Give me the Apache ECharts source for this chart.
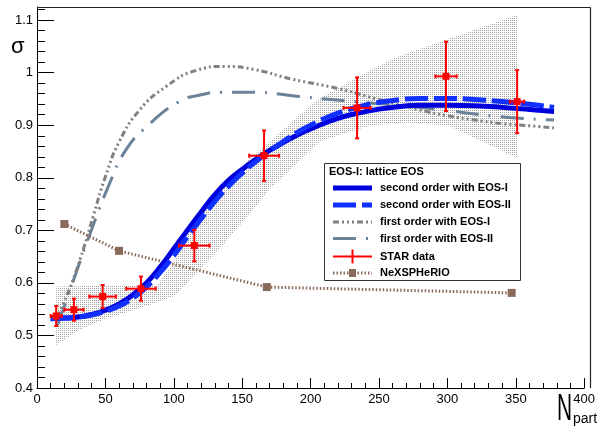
<!DOCTYPE html>
<html>
<head>
<meta charset="utf-8">
<script src="https://cdn.jsdelivr.net/npm/echarts@6/dist/echarts.min.js"></script>
<style>
html,body{margin:0;padding:0;background:#fff;}
#chart{width:598px;height:427px;}
</style>
</head>
<body>
<div id="chart"></div>
<script>
// ---- data ----
const xTickLabels = [0, 50, 100, 150, 200, 250, 300, 350, 400];
const yTickLabels = [0.4, 0.5, 0.6, 0.7, 0.8, 0.9, 1, 1.1];

const secondEOS1_x = [10,20,30,40,50,60,70,80,90,100,110,120,130,140,150,160,170,180,190,200,220,240,260,280,300,320,340,360,378];
const secondEOS1_y = [0.532,0.533,0.535,0.540,0.548,0.560,0.577,0.600,0.630,0.665,0.700,0.735,0.768,0.795,0.816,0.835,0.852,0.867,0.881,0.893,0.913,0.926,0.934,0.938,0.938,0.937,0.934,0.930,0.926];

const secondEOS2_x = [10,20,30,40,50,60,70,80,90,100,110,120,130,140,150,160,170,180,190,200,220,240,260,280,300,320,340,360,378];
const secondEOS2_y = [0.532,0.533,0.535,0.539,0.546,0.556,0.571,0.592,0.620,0.652,0.688,0.722,0.755,0.784,0.809,0.831,0.851,0.869,0.886,0.900,0.923,0.938,0.947,0.951,0.951,0.949,0.945,0.940,0.934];

const firstEOS1_x = [15,20,26,34,41,50,60,75,94,116,138,159,186,220,240,260,280,300,320,340,360,378];
const firstEOS1_y = [0.535,0.565,0.603,0.665,0.726,0.802,0.868,0.929,0.973,1.004,1.012,1.006,0.988,0.970,0.956,0.942,0.929,0.918,0.910,0.903,0.899,0.895];

const firstEOS2_x = [15,20,26,38,53,65,80,104,120,135,159,190,232,287,335,378];
const firstEOS2_y = [0.520,0.555,0.600,0.688,0.789,0.853,0.897,0.945,0.958,0.963,0.963,0.955,0.945,0.932,0.917,0.910];

const star_x    = [14, 27, 48, 76, 115, 166, 234, 299, 351];
const star_y    = [0.537, 0.549, 0.574, 0.589, 0.671, 0.842, 0.933, 0.993, 0.945];
const star_xerr = [4, 7, 9.7, 10.8, 11.2, 10.9, 9.9, 7.8, 5.2];
const star_yerr = [0.019, 0.021, 0.022, 0.023, 0.030, 0.048, 0.058, 0.066, 0.060];

const nexus_x = [20, 60, 168, 347];
const nexus_y = [0.712, 0.661, 0.592, 0.581];

const bandUpper_x = [14, 88, 100, 110, 120, 135, 150, 170, 190, 207, 244, 263, 351];
const bandUpper_y = [0.593, 0.596, 0.640, 0.690, 0.735, 0.785, 0.825, 0.868, 0.915, 0.952, 1.005, 1.030, 1.110];
const bandLower_x = [14, 30, 50, 70, 90, 100, 115, 130, 150, 170, 207, 244, 270, 300, 351];
const bandLower_y = [0.482, 0.510, 0.532, 0.548, 0.565, 0.575, 0.615, 0.655, 0.715, 0.778, 0.870, 0.900, 0.905, 0.900, 0.838];

const legendHeader = 'EOS-I: lattice EOS';
const legendLabels = ['second order with EOS-I', 'second order with EOS-II', 'first order with EOS-I', 'first order with EOS-II', 'STAR data', 'NeXSPHeRIO'];

// ---- styles ----
const C_SOLID = '#0000dd', C_DASH = '#1030ff', C_GREY = '#808080', C_SLATE = '#6b8299', C_RED = '#ff0000', C_BROWN = '#8a6a5a';
const DASH_BLUE = [23, 6], DASH_GREY = [6, 3, 2, 3, 2, 3, 2, 3], DASH_SLATE = [23, 10, 2, 10], DASH_BROWN = [1.5, 2];
const FONT = '"Liberation Sans", Arial, Helvetica, sans-serif';
const NARROW = '"Liberation Sans Narrow", "Liberation Sans", Arial, sans-serif';

function pairs(xs, ys) { return xs.map((x, i) => [x, ys[i]]); }

// stipple pattern for band
const pc = document.createElement('canvas');
pc.width = 2; pc.height = 2;
const pctx = pc.getContext('2d');
pctx.fillStyle = '#a0a0a0';
pctx.fillRect(0, 0, 1, 1);

const chart = echarts.init(document.getElementById('chart'), null, {renderer: 'canvas'});

function lineSeries(xs, ys, color, width, dash, z) {
  return {
    type: 'line', data: pairs(xs, ys), showSymbol: false, smooth: true, z: z,
    lineStyle: {color: color, width: width, type: dash || 'solid', cap: 'butt', join: 'round'},
    silent: true, animation: false
  };
}

// legend graphics
const LX = 324, LY = 163, LW = 196, LH = 117;
const rowY = [188, 205, 222, 238.5, 256.5, 273];
const sx0 = 333, sx1 = 372;
const legendGraphics = [
  {type: 'rect', shape: {x: LX + 0.5, y: LY + 0.5, width: LW, height: LH}, style: {fill: '#fff', stroke: '#333', lineWidth: 1}, z: 100},
  {type: 'text', x: 329, y: 172, style: {text: legendHeader, font: 'bold 11px ' + NARROW, fill: '#000', verticalAlign: 'middle'}, z: 101}
];
const sampleStyles = [
  {stroke: C_SOLID, lineWidth: 5, lineDash: null},
  {stroke: C_DASH, lineWidth: 5, lineDash: DASH_BLUE},
  {stroke: C_GREY, lineWidth: 3, lineDash: DASH_GREY},
  {stroke: C_SLATE, lineWidth: 3, lineDash: DASH_SLATE},
  {stroke: C_RED, lineWidth: 2, lineDash: null},
  {stroke: C_BROWN, lineWidth: 3, lineDash: DASH_BROWN}
];
legendLabels.forEach((lab, i) => {
  const y = rowY[i];
  legendGraphics.push({type: 'line', shape: {x1: sx0, y1: y, x2: sx1, y2: y}, style: Object.assign({lineCap: 'butt'}, sampleStyles[i]), z: 101});
  legendGraphics.push({type: 'text', x: 380, y: y, style: {text: lab, font: 'bold 11px ' + NARROW, fill: '#000', verticalAlign: 'middle'}, z: 101});
});
legendGraphics.push({type: 'line', shape: {x1: 352.5, y1: rowY[4] - 7, x2: 352.5, y2: rowY[4] + 7}, style: {stroke: C_RED, lineWidth: 2}, z: 102});
legendGraphics.push({type: 'rect', shape: {x: 349, y: rowY[5] - 4, width: 7, height: 8}, style: {fill: C_BROWN}, z: 102});

const Y_MIN = 0.4, Y_MAX = 1.125;

const option = {
  animation: false,
  backgroundColor: '#fff',
  grid: {left: 37, right: 9, top: 7, bottom: 39, show: false},
  xAxis: {
    type: 'value', min: 0, max: 400, interval: 50,
    axisLine: {show: true, lineStyle: {color: '#000', width: 1}},
    axisTick: {show: true, inside: true, length: 10, lineStyle: {color: '#000', width: 1}},
    minorTick: {show: true, splitNumber: 5, length: 5, lineStyle: {color: '#000', width: 1}},
    axisLabel: {show: true, margin: 5, color: '#000', fontSize: 13, fontFamily: FONT,
      formatter: v => xTickLabels.indexOf(v) >= 0 ? String(v) : ''},
    splitLine: {show: false}
  },
  yAxis: [
    {
      type: 'value', min: Y_MIN, max: Y_MAX, interval: 0.1, position: 'left',
      axisLine: {show: true, lineStyle: {color: '#000', width: 1}},
      axisTick: {show: true, inside: true, length: 17, lineStyle: {color: '#000', width: 1}},
      minorTick: {show: false},
      axisLabel: {show: true, margin: 4, color: '#000', fontSize: 13, fontFamily: FONT, showMaxLabel: false,
        formatter: v => { const r = Math.round(v * 10) / 10; return (Math.abs(r - v) < 1e-6 && yTickLabels.indexOf(r) >= 0) ? String(r) : ''; }},
      splitLine: {show: false}
    },
    {
      type: 'value', min: Y_MIN, max: Y_MAX, interval: 0.02, position: 'left', offset: 0,
      axisLine: {show: false},
      axisTick: {show: true, inside: true, length: 8, lineStyle: {color: '#000', width: 1}},
      axisLabel: {show: false},
      splitLine: {show: false}
    }
  ],
  graphic: [
    {type: 'line', shape: {x1: 37, y1: 7.5, x2: 590.5, y2: 7.5}, style: {stroke: '#222', lineWidth: 1.2}, z: 50},
    {type: 'line', shape: {x1: 590.5, y1: 7.5, x2: 590.5, y2: 388}, style: {stroke: '#222', lineWidth: 1.2}, z: 50},
    {type: 'text', x: 11, y: 47, style: {text: 'σ', font: '22px ' + FONT, fill: '#000', verticalAlign: 'middle'}, z: 50},
    {type: 'text', x: 557, y: 410, scaleX: 0.58, style: {text: 'N', font: '36px ' + FONT, fill: '#000', verticalAlign: 'middle'}, z: 50},
    {type: 'text', x: 573, y: 419, style: {text: 'part', font: '14px ' + FONT, fill: '#000', verticalAlign: 'middle'}, z: 50}
  ].concat(legendGraphics),
  series: [
    {
      type: 'custom', coordinateSystem: 'cartesian2d', silent: true, z: 1,
      data: [[bandUpper_x[0], bandUpper_y[0]]],
      renderItem: function (params, api) {
        const pts = [];
        for (let i = 0; i < bandUpper_x.length; i++) pts.push(api.coord([bandUpper_x[i], bandUpper_y[i]]));
        for (let i = bandLower_x.length - 1; i >= 0; i--) pts.push(api.coord([bandLower_x[i], bandLower_y[i]]));
        return {type: 'polygon', shape: {points: pts}, style: {fill: {image: pc, repeat: 'repeat'}}};
      }
    },
    lineSeries(firstEOS2_x, firstEOS2_y, C_SLATE, 3, DASH_SLATE, 3),
    lineSeries(firstEOS1_x, firstEOS1_y, C_GREY, 3, DASH_GREY, 3),
    {
      type: 'line', data: pairs(nexus_x, nexus_y), smooth: false, z: 4, silent: true,
      symbol: 'rect', symbolSize: 8, showSymbol: true,
      itemStyle: {color: C_BROWN},
      lineStyle: {color: C_BROWN, width: 3, type: DASH_BROWN, cap: 'butt'}
    },
    lineSeries(secondEOS1_x, secondEOS1_y, C_SOLID, 5, 'solid', 5),
    lineSeries(secondEOS2_x, secondEOS2_y, C_DASH, 5, DASH_BLUE, 6),
    {
      type: 'custom', coordinateSystem: 'cartesian2d', silent: true, z: 10,
      dimensions: ['x', 'y', 'ex', 'ey'],
      encode: {x: 0, y: 1},
      data: star_x.map((x, i) => [x, star_y[i], star_xerr[i], star_yerr[i]]),
      renderItem: function (params, api) {
        const x = api.value(0), y = api.value(1), ex = api.value(2), ey = api.value(3);
        const c = api.coord([x, y]);
        const t = api.coord([x, y + ey]), b = api.coord([x, y - ey]);
        const l = api.coord([x - ex, y]), r = api.coord([x + ex, y]);
        const st = {stroke: C_RED, lineWidth: 2};
        const cap = 2;
        return {
          type: 'group',
          children: [
            {type: 'line', shape: {x1: t[0], y1: t[1], x2: b[0], y2: b[1]}, style: st},
            {type: 'line', shape: {x1: l[0], y1: l[1], x2: r[0], y2: r[1]}, style: st},
            {type: 'line', shape: {x1: t[0] - cap, y1: t[1], x2: t[0] + cap, y2: t[1]}, style: st},
            {type: 'line', shape: {x1: b[0] - cap, y1: b[1], x2: b[0] + cap, y2: b[1]}, style: st},
            {type: 'line', shape: {x1: l[0], y1: l[1] - cap, x2: l[0], y2: l[1] + cap}, style: st},
            {type: 'line', shape: {x1: r[0], y1: r[1] - cap, x2: r[0], y2: r[1] + cap}, style: st},
            {type: 'rect', shape: {x: c[0] - 3.5, y: c[1] - 3.5, width: 7, height: 7}, style: {fill: C_RED}}
          ]
        };
      }
    }
  ]
};
chart.setOption(option);
</script>
</body>
</html>
